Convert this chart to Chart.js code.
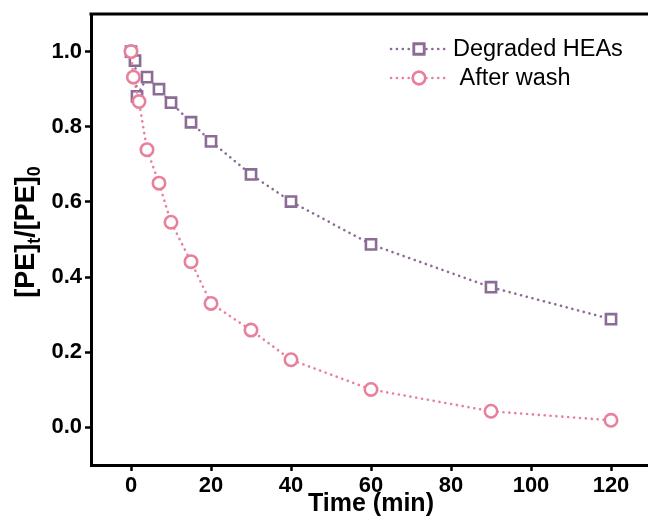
<!DOCTYPE html>
<html><head><meta charset="utf-8">
<script src="https://cdn.jsdelivr.net/npm/chart.js@4.4.1/dist/chart.umd.min.js"></script>
<style>
html,body{margin:0;padding:0;background:#fff;overflow:hidden;width:648px;height:519px}
#wrap{width:652px;height:519px;position:relative}
</style></head>
<body><div id="wrap"><canvas id="c" width="652" height="519"></canvas></div>
<script>
// Data
const degradedTime = [0, 1, 1.5, 4, 7, 10, 15, 20, 30, 40, 60, 90, 120];
const degradedHEAs = [1.0, 0.976, 0.881, 0.932, 0.900, 0.864, 0.812, 0.761, 0.673, 0.601, 0.487, 0.373, 0.288];
const washTime = [0, 0.6, 2, 4, 7, 10, 15, 20, 30, 40, 60, 90, 120];
const afterWash = [1.0, 0.932, 0.867, 0.739, 0.650, 0.546, 0.441, 0.330, 0.259, 0.180, 0.101, 0.043, 0.019];
const xTicks = [0, 20, 40, 60, 80, 100, 120];
const yTicks = [0.0, 0.2, 0.4, 0.6, 0.8, 1.0];
const seriesLabels = ['Degraded HEAs', ' After wash'];
const xTitle = 'Time (min)';

const purple = '#8b6c95';
const pink = '#e9809b';

const toPts = (xs, ys) => xs.map((x, i) => ({x: x, y: ys[i]}));

const frame = {
  id: 'frame',
  afterDraw(chart) {
    const ctx = chart.ctx, a = chart.chartArea;
    ctx.save();
    ctx.strokeStyle = '#000';
    ctx.lineWidth = 3;
    ctx.beginPath();
    ctx.moveTo(a.left - 1.5, a.top);
    ctx.lineTo(a.right + 2, a.top);
    ctx.stroke();
    // y title with subscripts
    ctx.translate(34, 232);
    ctx.rotate(-Math.PI / 2);
    ctx.fillStyle = '#000';
    ctx.textBaseline = 'alphabetic';
    const big = 'bold 27px "Liberation Sans", Arial, sans-serif';
    const small = 'bold 18px "Liberation Sans", Arial, sans-serif';
    const parts = [['[PE]', big, 0], ['t', small, 6], ['/[PE]', big, 0], ['0', small, 6]];
    let total = 0;
    parts.forEach(p => { ctx.font = p[1]; total += ctx.measureText(p[0]).width; });
    let x = -total / 2;
    parts.forEach(p => { ctx.font = p[1]; ctx.fillText(p[0], x, p[2]); x += ctx.measureText(p[0]).width; });
    ctx.restore();

    // legend
    ctx.save();
    const items = [
      {ds: chart.data.datasets[0], y: 49},
      {ds: chart.data.datasets[1], y: 78}
    ];
    items.forEach(it => {
      const ds = it.ds;
      ctx.strokeStyle = ds.borderColor;
      ctx.lineWidth = ds.borderWidth;
      ctx.setLineDash(ds.borderDash);
      ctx.lineCap = 'round';
      ctx.beginPath();
      ctx.moveTo(391, it.y);
      ctx.lineTo(446, it.y);
      ctx.stroke();
      ctx.setLineDash([]);
      ctx.fillStyle = '#fff';
      Chart.helpers.drawPoint(ctx, {pointStyle: ds.pointStyle, radius: ds.pointRadius, borderWidth: ds.pointBorderWidth}, 419, it.y);
      ctx.fill();
      ctx.lineWidth = ds.pointBorderWidth;
      ctx.strokeStyle = ds.borderColor;
      ctx.stroke();
      ctx.fillStyle = '#000';
      ctx.font = '23.5px "Liberation Sans", Arial, sans-serif';
      ctx.textBaseline = 'middle';
      ctx.fillText(ds.label, 453, it.y + 1);
    });
    ctx.restore();
  }
};

new Chart(document.getElementById('c'), {
  type: 'scatter',
  data: {
    datasets: [
      {
        label: seriesLabels[0],
        data: toPts(degradedTime, degradedHEAs),
        showLine: true,
        borderColor: purple,
        backgroundColor: '#fff',
        borderWidth: 2.6,
        borderDash: [0.1, 5.8],
        borderCapStyle: 'round',
        pointStyle: 'rect',
        pointRadius: 7.2,
        pointBorderWidth: 2.6,
        pointBackgroundColor: '#fff',
        pointBorderColor: purple,
        order: 2
      },
      {
        label: seriesLabels[1],
        data: toPts(washTime, afterWash),
        showLine: true,
        borderColor: pink,
        backgroundColor: '#fff',
        borderWidth: 2.6,
        borderDash: [0.1, 5.8],
        borderCapStyle: 'round',
        pointStyle: 'circle',
        pointRadius: 6.2,
        pointBorderWidth: 2.6,
        pointBackgroundColor: '#fff',
        pointBorderColor: pink,
        order: 1
      }
    ]
  },
  options: {
    responsive: false,
    animation: false,
    layout: {autoPadding: false, padding: {top: 14, right: 1, left: 0, bottom: 0}},
    plugins: {legend: {display: false}, tooltip: {enabled: false}},
    scales: {
      x: {
        type: 'linear', min: -10, max: 130,
        afterBuildTicks: s => { s.ticks = xTicks.map(v => ({value: v})); },
        afterFit: s => { s.height = 54; s.paddingLeft = 0; s.paddingRight = 0; },
        border: {display: true, width: 3, color: '#000'},
        grid: {display: true, drawOnChartArea: false, drawTicks: true, tickLength: 6, tickWidth: 2.5, tickColor: '#000', color: '#000'},
        ticks: {color: '#000', padding: 2, maxRotation: 0, font: {family: '"Liberation Sans", Arial, sans-serif', size: 22, weight: 'bold'}},
        title: {display: true, text: xTitle, color: '#000', padding: {top: -1, bottom: 0}, font: {family: '"Liberation Sans", Arial, sans-serif', size: 25, weight: 'bold'}}
      },
      y: {
        type: 'linear', min: -0.1, max: 1.1,
        afterBuildTicks: s => { s.ticks = yTicks.map(v => ({value: v})); },
        afterFit: s => { s.width = 91; s.paddingTop = 0; s.paddingBottom = 0; },
        border: {display: true, width: 3, color: '#000'},
        grid: {display: true, drawOnChartArea: false, drawTicks: true, tickLength: 6, tickWidth: 2.5, tickColor: '#000', color: '#000'},
        ticks: {color: '#000', padding: 3, callback: v => Number(v).toFixed(1), font: {family: '"Liberation Sans", Arial, sans-serif', size: 22, weight: 'bold'}}
      }
    }
  },
  plugins: [frame]
});
</script>
</body></html>
